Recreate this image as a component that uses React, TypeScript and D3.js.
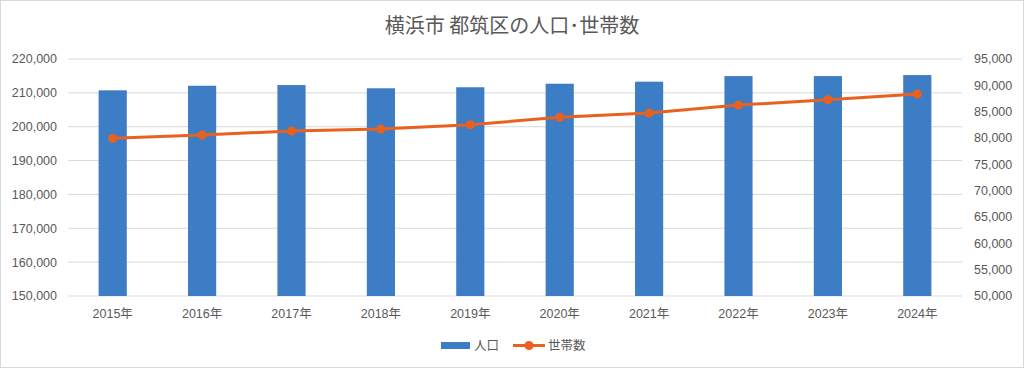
import React from 'react'
import * as d3 from 'd3'

const years = ['2015年', '2016年', '2017年', '2018年', '2019年', '2020年', '2021年', '2022年', '2023年', '2024年']
const population = [210750, 212100, 212300, 211350, 211650, 212700, 213300, 214950, 214950, 215250]
const households = [79940, 80570, 81330, 81700, 82520, 83930, 84740, 86260, 87270, 88350]
const leftTicks = [150000, 160000, 170000, 180000, 190000, 200000, 210000, 220000]
const rightTicks = [50000, 55000, 60000, 65000, 70000, 75000, 80000, 85000, 90000, 95000]

const W = 1024
const H = 368
const plot = { left: 68, right: 962, top: 59, bottom: 296 }
const textColor = '#595959'
const barColor = '#3d7dc6'
const lineColor = '#e8611f'
const font = '"Liberation Sans", "Noto Sans CJK JP", sans-serif'
const cjkFont = '"Noto Sans CJK JP", sans-serif'

export default function App() {
  const x = d3.scaleBand<string>()
    .domain(years)
    .range([plot.left, plot.right])
    .paddingInner(0.685)
    .paddingOuter(0.3425)

  const yL = d3.scaleLinear().domain([150000, 220000]).range([plot.bottom, plot.top])
  const yR = d3.scaleLinear().domain([50000, 95000]).range([plot.bottom, plot.top])
  const fmt = d3.format(',')

  const cx = (i: number) => (x(years[i]) as number) + x.bandwidth() / 2

  const linePath = d3.line<number>()
    .x((d, i) => cx(i))
    .y(d => yR(d))(households)

  return (
    <svg width={W} height={H} style={{ position: 'absolute', left: 0, top: 0, background: '#fff' }}>
      <rect x={0.5} y={0.5} width={W - 1} height={H - 1} fill="#fff" stroke="#d9d9d9" strokeWidth={1} />

      <text x={W / 2} y={33} textAnchor="middle" fontFamily={cjkFont} fontSize={20} fill={textColor}>
        横浜市 都筑区の人口･世帯数
      </text>

      {leftTicks.map(t => (
        <g key={t}>
          <line x1={plot.left} x2={plot.right} y1={yL(t)} y2={yL(t)} stroke="#d9d9d9" strokeWidth={1} />
          <text x={57} y={yL(t)} dy="0.35em" textAnchor="end" fontFamily={font} fontSize={12.5} fill={textColor}>
            {fmt(t)}
          </text>
        </g>
      ))}

      {rightTicks.map(t => (
        <text key={t} x={974} y={yR(t)} dy="0.35em" textAnchor="start" fontFamily={font} fontSize={12.5} fill={textColor}>
          {fmt(t)}
        </text>
      ))}

      {population.map((v, i) => (
        <rect key={years[i]} x={x(years[i])} y={yL(v)} width={x.bandwidth()} height={plot.bottom - yL(v)} fill={barColor} />
      ))}

      <path d={linePath || ''} fill="none" stroke={lineColor} strokeWidth={3} strokeLinejoin="round" />
      {households.map((v, i) => (
        <circle key={years[i]} cx={cx(i)} cy={yR(v)} r={4.5} fill={lineColor} />
      ))}

      {years.map((yr, i) => (
        <text key={yr} x={cx(i)} y={318} textAnchor="middle" fontFamily={font} fontSize={12.5} fill={textColor}>
          {yr}
        </text>
      ))}

      <g>
        <rect x={441} y={342} width={29} height={7} fill={barColor} />
        <text x={474} y={350} fontFamily={cjkFont} fontSize={12.5} fill={textColor}>人口</text>
        <line x1={513} x2={545} y1={345.5} y2={345.5} stroke={lineColor} strokeWidth={3} />
        <circle cx={529} cy={345.5} r={4.5} fill={lineColor} />
        <text x={548} y={350} fontFamily={cjkFont} fontSize={12.5} fill={textColor}>世帯数</text>
      </g>
    </svg>
  )
}
